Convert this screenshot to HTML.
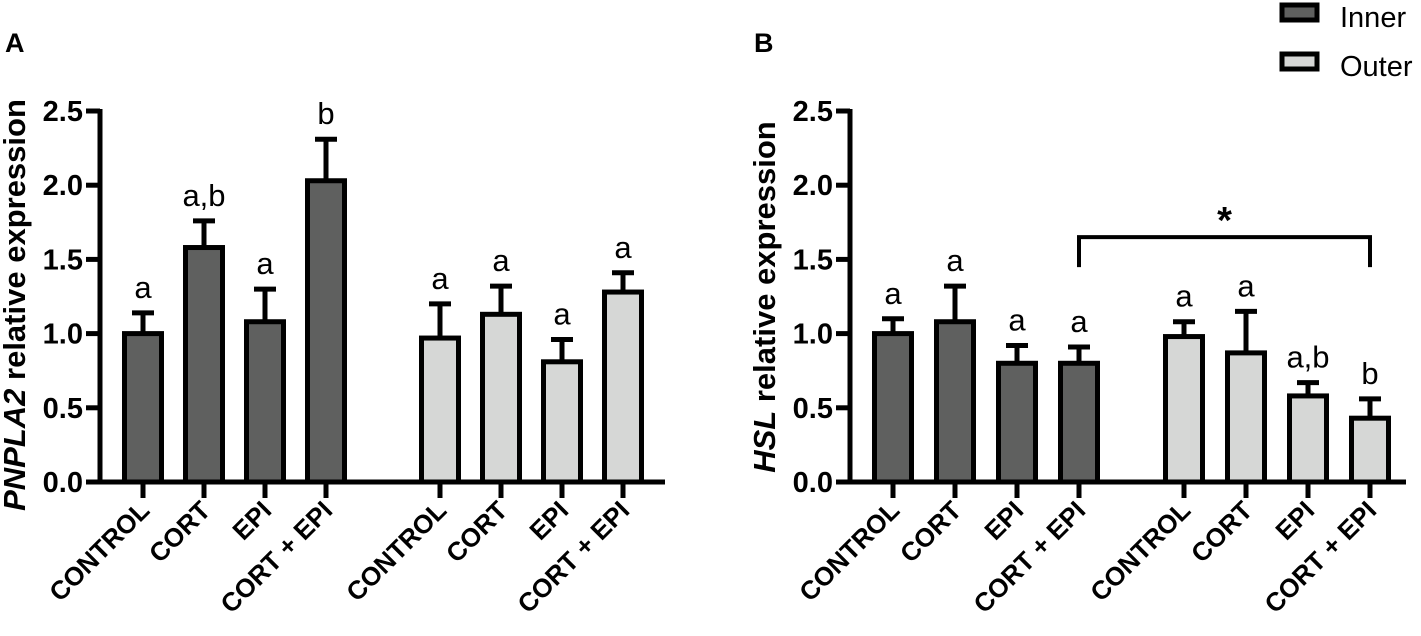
<!DOCTYPE html>
<html><head><meta charset="utf-8"><style>
html,body{margin:0;padding:0;background:#fff;}
svg{display:block;font-family:"Liberation Sans",Arial,sans-serif;}
</style></head><body>
<svg id="chart" width="1421" height="636" viewBox="0 0 1421 636"></svg>
<script>
const categories = ["CONTROL","CORT","EPI","CORT + EPI"];
const groups = ["Inner","Outer"];
const yTicks = [0,0.5,1.0,1.5,2.0,2.5];
const tickLabels = ["0.0","0.5","1.0","1.5","2.0","2.5"];
const aInner = [1.00,1.58,1.08,2.03];
const aInnerErr = [0.14,0.18,0.22,0.28];
const aOuter = [0.97,1.13,0.81,1.28];
const aOuterErr = [0.23,0.19,0.15,0.13];
const aInnerLetters = ["a","a,b","a","b"];
const aOuterLetters = ["a","a","a","a"];
const bInner = [1.00,1.08,0.80,0.80];
const bInnerErr = [0.10,0.24,0.12,0.11];
const bOuter = [0.98,0.87,0.58,0.43];
const bOuterErr = [0.10,0.28,0.09,0.13];
const bInnerLetters = ["a","a","a","a"];
const bOuterLetters = ["a","a","a,b","b"];
const bracketValue = 1.65;

const NS="http://www.w3.org/2000/svg";
const svg=document.getElementById('chart');
function el(tag,attrs,parent,text){const e=document.createElementNS(NS,tag);for(const k in attrs)e.setAttribute(k,attrs[k]);if(text!==undefined)e.textContent=text;(parent||svg).appendChild(e);return e;}
const y0=482, yScale=148.4;
function Y(v){return y0-v*yScale;}
const colors={Inner:"#5f605f",Outer:"#d6d7d6"};

function panel(cfg){
  const g=el('g',{});
  
  
  const pl=el('text',{x:cfg.letterX,y:52,'font-size':27,'font-weight':'bold'},g,cfg.letter);
  
  
  const ax=el('line',{x1:cfg.axisX,y1:Y(2.5)-2,x2:cfg.axisX,y2:y0+2,stroke:'#000','stroke-width':5},g);
  
  
  yTicks.forEach((t,i)=>{
    el('line',{x1:cfg.axisX-14,y1:Y(t),x2:cfg.axisX,y2:Y(t),stroke:'#000','stroke-width':5},g);
    const tl=el('text',{x:cfg.axisX-17,y:Y(t)+10,'font-size':29,'font-weight':'bold','text-anchor':'end'},g,tickLabels[i]);
    
    
  });
  const xa=el('line',{x1:cfg.axisX-13,y1:y0,x2:cfg.axisEnd,y2:y0,stroke:'#000','stroke-width':5},g);
  
  
  const yt=el('text',{transform:`translate(${cfg.titleX},${cfg.titleY}) rotate(-90)`,'font-size':31,'font-weight':'bold','text-anchor':'middle'},g);
  el('tspan',{'font-style':'italic'},yt,cfg.gene);
  el('tspan',{},yt,' relative expression');
  
  
  const series=[[cfg.inner,cfg.innerErr,cfg.innerL,'Inner',cfg.startInner],[cfg.outer,cfg.outerErr,cfg.outerL,'Outer',cfg.startOuter]];
  series.forEach(([vals,errs,lets,grp,start])=>{
    vals.forEach((v,i)=>{
      const cx=start+i*cfg.step, w=cfg.barW;
      const top=Y(v+errs[i]);
      el('line',{x1:cx,y1:Y(v),x2:cx,y2:top,stroke:'#000','stroke-width':5},g);
      el('line',{x1:cx-11,y1:top,x2:cx+11,y2:top,stroke:'#000','stroke-width':5},g);
      const b=el('rect',{x:cx-w/2,y:Y(v),width:w,height:y0-Y(v),fill:colors[grp],stroke:'#000','stroke-width':5},g);
      
      
      const lt=el('text',{x:cx,y:top-15,'font-size':31,'text-anchor':'middle'},g,lets[i]);
      
      
      el('line',{x1:cx,y1:y0,x2:cx,y2:y0+16,stroke:'#000','stroke-width':5},g);
      const xl=el('text',{transform:`translate(${cx+8},${y0+30}) rotate(-45)`,'font-size':26,'font-weight':'bold','text-anchor':'end'},g,categories[i]);
      
      
    });
  });
  return g;
}
panel({name:'panel-a',letter:'A',letterX:5,axisX:100,axisEnd:665,titleX:25,titleY:305,gene:'PNPLA2',inner:aInner,innerErr:aInnerErr,innerL:aInnerLetters,outer:aOuter,outerErr:aOuterErr,outerL:aOuterLetters,startInner:143,startOuter:440,step:61,barW:37});
panel({name:'panel-b',letter:'B',letterX:754,axisX:850,axisEnd:1406,titleX:775,titleY:297,gene:'HSL',inner:bInner,innerErr:bInnerErr,innerL:bInnerLetters,outer:bOuter,outerErr:bOuterErr,outerL:bOuterLetters,startInner:893,startOuter:1184,step:62,barW:37});
const bx1=893+3*62, bx2=1184+3*62, by=Y(bracketValue);
const br=el('path',{d:`M${bx1},${by+30} V${by} H${bx2} V${by+30}`,fill:'none',stroke:'#000','stroke-width':4});


const st=el('text',{x:(bx1+bx2)/2,y:by-4,'font-size':38,'font-weight':'bold','text-anchor':'middle'},svg,'*');


groups.forEach((grp,i)=>{
  const gy=5+i*49;
  const r=el('rect',{x:1282,y:gy,width:35,height:15,fill:colors[grp],stroke:'#000','stroke-width':5});
  
  
  const t=el('text',{x:1340,y:gy+22,'font-size':29},svg,grp);
  
  
});
</script>
</body></html>
